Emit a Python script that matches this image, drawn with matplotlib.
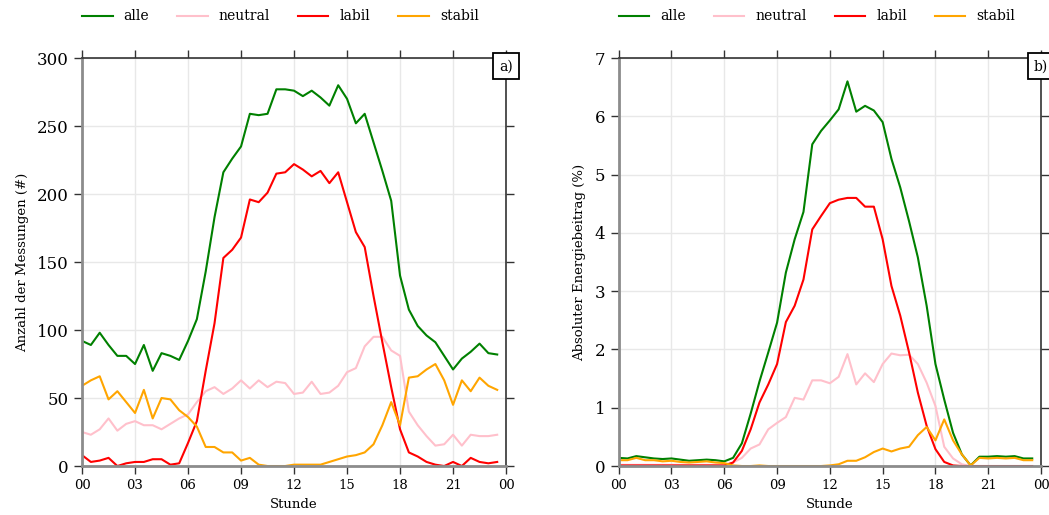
import numpy as np
import matplotlib
matplotlib.use('Agg')
import matplotlib.pyplot as plt

plt.rcParams['font.family'] = ['DejaVu Serif']

# half-hourly values, 00:00 .. 23:30
stunde = np.arange(48) * 0.5

# a) Anzahl der Messungen
anzahl_alle = [92, 89, 98, 89, 81, 81, 75, 89, 70, 83, 81, 78,
               92, 108, 143, 183, 216, 226, 235, 259, 258, 259, 277, 277,
               276, 272, 276, 271, 265, 280, 270, 252, 259, 238, 217, 195,
               140, 115, 103, 96, 91, 81, 71, 79, 84, 90, 83, 82]
anzahl_neutral = [25, 23, 27, 35, 26, 31, 33, 30, 30, 27, 31, 35,
                  38, 47, 55, 58, 53, 57, 63, 57, 63, 58, 62, 61,
                  53, 54, 62, 53, 54, 59, 69, 72, 88, 95, 95, 85,
                  81, 40, 30, 22, 15, 16, 23, 15, 23, 22, 22, 23]
anzahl_labil = [8, 3, 4, 6, 0, 2, 3, 3, 5, 5, 1, 2,
                17, 33, 70, 105, 153, 159, 168, 196, 194, 201, 215, 216,
                222, 218, 213, 217, 208, 216, 194, 172, 161, 125, 91, 58,
                27, 10, 7, 3, 1, 0, 3, 0, 6, 3, 2, 3]
anzahl_stabil = [59, 63, 66, 49, 55, 47, 39, 56, 35, 50, 49, 41,
                 36, 29, 14, 14, 10, 10, 4, 6, 1, 0, 0, 0,
                 1, 1, 1, 1, 3, 5, 7, 8, 10, 16, 30, 47,
                 30, 65, 66, 71, 75, 63, 45, 63, 55, 65, 59, 56]

# b) Absoluter Energiebeitrag
energie_alle = [0.14, 0.13, 0.17, 0.15, 0.13, 0.12, 0.13, 0.11, 0.09, 0.10, 0.11, 0.10,
                0.08, 0.14, 0.39, 0.90, 1.45, 1.95, 2.46, 3.32, 3.89, 4.36, 5.52, 5.75,
                5.93, 6.12, 6.60, 6.08, 6.18, 6.10, 5.90, 5.27, 4.78, 4.20, 3.58, 2.75,
                1.75, 1.14, 0.57, 0.20, 0.01, 0.16, 0.16, 0.17, 0.16, 0.17, 0.13, 0.13]
energie_neutral = [0.02, 0.02, 0.02, 0.02, 0.02, 0.02, 0.02, 0.02, 0.02, 0.02, 0.02, 0.02,
                   0.02, 0.06, 0.14, 0.30, 0.37, 0.63, 0.74, 0.84, 1.17, 1.14, 1.47, 1.47,
                   1.42, 1.53, 1.92, 1.40, 1.59, 1.44, 1.75, 1.93, 1.90, 1.91, 1.75, 1.43,
                   1.03, 0.33, 0.13, 0.03, 0.0, 0.0, 0.0, 0.0, 0.0, 0.0, 0.0, 0.0]
energie_labil = [0.01, 0.01, 0.01, 0.01, 0.01, 0.01, 0.01, 0.01, 0.01, 0.01, 0.01, 0.01,
                 0.01, 0.06, 0.26, 0.63, 1.09, 1.40, 1.75, 2.47, 2.75, 3.20, 4.06, 4.29,
                 4.51, 4.57, 4.60, 4.60, 4.45, 4.45, 3.89, 3.09, 2.58, 1.95, 1.26, 0.69,
                 0.29, 0.07, 0.01, 0.0, 0.0, 0.0, 0.0, 0.0, 0.0, 0.0, 0.0, 0.0]
energie_stabil = [0.10, 0.10, 0.14, 0.10, 0.10, 0.08, 0.09, 0.07, 0.06, 0.07, 0.08, 0.06,
                  0.05, 0.01, 0.0, 0.0, 0.01, 0.0, 0.0, 0.0, 0.0, 0.0, 0.0, 0.0,
                  0.01, 0.03, 0.09, 0.09, 0.15, 0.24, 0.30, 0.25, 0.30, 0.33, 0.53, 0.67,
                  0.44, 0.80, 0.44, 0.20, 0.01, 0.14, 0.13, 0.14, 0.13, 0.14, 0.10, 0.10]

labels = ['alle', 'neutral', 'labil', 'stabil']
colors = ['green', 'pink', 'red', 'orange']
xticks = np.arange(0, 25, 3)
xticklabels = ['00', '03', '06', '09', '12', '15', '18', '21', '00']

fig = plt.figure(figsize=(10.49, 5.15), dpi=100)
ax1 = fig.add_axes([0.0782, 0.0951, 0.4042, 0.7922])
ax2 = fig.add_axes([0.5898, 0.0951, 0.4026, 0.7922])

panels = [
    (ax1, [anzahl_alle, anzahl_neutral, anzahl_labil, anzahl_stabil],
     'Anzahl der Messungen (#)', (0, 300), np.arange(0, 301, 50), 'a)'),
    (ax2, [energie_alle, energie_neutral, energie_labil, energie_stabil],
     'Absoluter Energiebeitrag (%)', (0, 7), np.arange(0, 8, 1), 'b)'),
]

for ax, series, ylabel, ylim, yticks, tag in panels:
    for vals, lab, col in zip(series, labels, colors):
        ax.plot(stunde, vals, color=col, lw=1.5, label=lab)
    ax.set_xlim(0, 24)
    ax.set_ylim(*ylim)
    ax.set_xticks(xticks)
    ax.set_xticklabels(xticklabels, fontsize=9.5)
    ax.set_yticks(yticks)
    ax.tick_params(axis='y', labelsize=12)
    ax.tick_params(direction='out', length=6, width=1, color='#333333',
                   top=True, right=True, labeltop=False, labelright=False)
    ax.grid(True, color='#e8e8e8', lw=1)
    ax.set_axisbelow(True)
    for side in ['left', 'bottom']:
        ax.spines[side].set_color('#8c8c8c')
        ax.spines[side].set_linewidth(2)
    for side in ['top', 'right']:
        ax.spines[side].set_color('#333333')
        ax.spines[side].set_linewidth(1.2)
    ax.set_xlabel('Stunde', fontsize=9.5, labelpad=4)
    ax.set_ylabel(ylabel, fontsize=9.5, labelpad=6)
    ax.legend(loc='lower left', bbox_to_anchor=(0.0, 1.085), ncol=4,
              frameon=False, fontsize=10, handlelength=2.2, handletextpad=0.8,
              columnspacing=2.0, borderaxespad=0, borderpad=0)
    ax.text(1.0, 0.98, tag, transform=ax.transAxes, ha='center', va='center',
            fontsize=10, zorder=10, clip_on=False,
            bbox=dict(boxstyle='square,pad=0.45', fc='white', ec='black', lw=1.3))

fig.savefig('out.png', dpi=100)
